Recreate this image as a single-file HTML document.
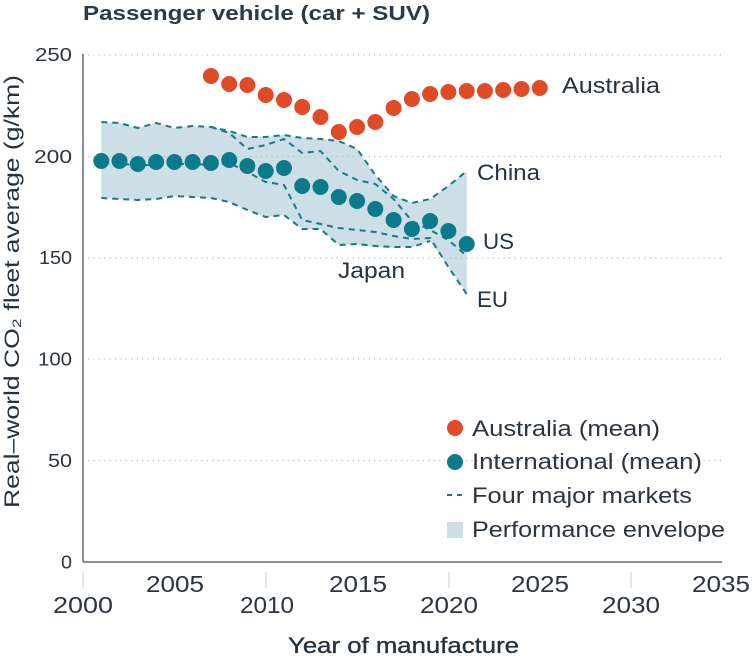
<!DOCTYPE html>
<html>
<head>
<meta charset="utf-8">
<style>
  html, body { margin:0; padding:0; background:#ffffff; }
  svg { display:block; }
  text { font-family: "Liberation Sans", "DejaVu Sans", sans-serif; }
</style>
</head>
<body>
<svg width="754" height="660" viewBox="0 0 754 660" xmlns="http://www.w3.org/2000/svg">
  <rect x="0" y="0" width="754" height="660" fill="#ffffff"/>

  <!-- Title -->
  <text x="83" y="20" font-size="20" font-weight="bold" fill="#2b3a48" textLength="347" lengthAdjust="spacingAndGlyphs">Passenger vehicle (car + SUV)</text>

  <!-- Envelope -->
  <polygon fill="#cddfe6" points="101.3,122 119.5,123 137.8,128 156.1,123 174.4,128 192.6,126 210.9,127 229.2,131 247.4,137 265.7,137 284,135 302.2,138 320.5,139 338.8,141 357.1,149 375.3,175 393.6,196 411.9,203 430.1,199 448.4,186 466.7,171 466.7,294 448.4,267 430.1,241 411.9,247 393.6,248 375.3,247 357.1,245 338.8,245 320.5,229 302.2,229 284,215 265.7,217 247.4,210 229.2,202 210.9,198 192.6,197 174.4,196 156.1,199 137.8,200 119.5,199 101.3,198"/>

  <!-- Gridlines -->
  <g stroke="#b9bec3" stroke-width="1.2" stroke-dasharray="1.2 4.2">
    <line x1="88" y1="55" x2="722" y2="55"/>
    <line x1="88" y1="156.5" x2="722" y2="156.5"/>
    <line x1="88" y1="258" x2="722" y2="258"/>
    <line x1="88" y1="359" x2="722" y2="359"/>
    <line x1="88" y1="460.5" x2="722" y2="460.5"/>
  </g>

  <!-- Axes -->
  <line x1="83" y1="54" x2="83" y2="562" stroke="#5f6a74" stroke-width="1.5"/>
  <line x1="83" y1="562" x2="722" y2="562" stroke="#5f6a74" stroke-width="1.5"/>

  <!-- X ticks -->
  <g stroke="#c8cbce" stroke-width="1">
    <line x1="83" y1="572" x2="83" y2="588"/>
    <line x1="266" y1="572" x2="266" y2="588"/>
    <line x1="449" y1="572" x2="449" y2="588"/>
    <line x1="631" y1="572" x2="631" y2="588"/>
  </g>

  <!-- X labels -->
  <g font-size="23" fill="#2b3440" text-anchor="middle">
    <text x="175" y="592" textLength="58" lengthAdjust="spacingAndGlyphs">2005</text>
    <text x="358" y="592" textLength="58" lengthAdjust="spacingAndGlyphs">2015</text>
    <text x="540" y="592" textLength="58" lengthAdjust="spacingAndGlyphs">2025</text>
    <text x="721" y="592" textLength="58" lengthAdjust="spacingAndGlyphs">2035</text>
    <text x="83" y="613" textLength="60" lengthAdjust="spacingAndGlyphs">2000</text>
    <text x="267" y="613" textLength="54" lengthAdjust="spacingAndGlyphs">2010</text>
    <text x="449" y="613" textLength="58" lengthAdjust="spacingAndGlyphs">2020</text>
    <text x="631" y="613" textLength="58" lengthAdjust="spacingAndGlyphs">2030</text>
  </g>

  <!-- X title -->
  <text x="288" y="653" font-size="22" fill="#25323f" stroke="#25323f" stroke-width="0.35" textLength="231" lengthAdjust="spacingAndGlyphs">Year of manufacture</text>

  <!-- Y labels -->
  <g font-size="18" fill="#2b3440" text-anchor="end">
    <text x="72" y="61" textLength="37" lengthAdjust="spacingAndGlyphs">250</text>
    <text x="72" y="163" textLength="38" lengthAdjust="spacingAndGlyphs">200</text>
    <text x="72" y="264" textLength="33" lengthAdjust="spacingAndGlyphs">150</text>
    <text x="72" y="365.5" textLength="34" lengthAdjust="spacingAndGlyphs">100</text>
    <text x="72" y="467" textLength="24" lengthAdjust="spacingAndGlyphs">50</text>
    <text x="72" y="568.5" textLength="11" lengthAdjust="spacingAndGlyphs">0</text>
  </g>

  <!-- Y title -->
  <text transform="translate(19,291.5) rotate(-90)" text-anchor="middle" font-size="21" fill="#25323f" textLength="433" lengthAdjust="spacingAndGlyphs">Real–world CO₂ fleet average (g/km)</text>

  <!-- Dashed market lines -->
  <g fill="none" stroke="#17788a" stroke-width="2" stroke-dasharray="6 5" stroke-linejoin="round">
    <polyline points="101.3,122 119.5,123 137.8,128 156.1,123 174.4,128 192.6,126 210.9,127 229.2,131 247.4,137 265.7,137 284,135 302.2,138 320.5,139 338.8,141 357.1,149 375.3,175 393.6,196 411.9,203 430.1,199 448.4,186 466.7,171"/>
    <polyline points="210.9,127 229.2,133 247.4,149 265.7,145 284,139 302.2,153 320.5,151 338.8,171 357.1,180 375.3,184 393.6,199 411.9,221 430.1,230 448.4,240 466.7,256"/>
    <polyline points="101.3,163 119.5,163 137.8,166 156.1,164 174.4,164 192.6,164 210.9,165 229.2,163 247.4,172 265.7,182 284,185 302.2,220 320.5,224 338.8,228 357.1,230 375.3,232 393.6,236 411.9,239 430.1,238 448.4,267 466.7,294"/>
    <polyline points="101.3,198 119.5,199 137.8,200 156.1,199 174.4,196 192.6,197 210.9,198 229.2,202 247.4,210 265.7,217 284,215 302.2,229 320.5,229 338.8,245 357.1,244 375.3,246 393.6,247 411.9,247 430.1,241"/>
  </g>

  <!-- International dots -->
  <g fill="#0b7b8b">
    <circle cx="101.3" cy="161" r="8"/>
    <circle cx="119.5" cy="161" r="8"/>
    <circle cx="137.8" cy="164" r="8"/>
    <circle cx="156.1" cy="162" r="8"/>
    <circle cx="174.4" cy="162" r="8"/>
    <circle cx="192.6" cy="162" r="8"/>
    <circle cx="210.9" cy="163" r="8"/>
    <circle cx="229.2" cy="160" r="8"/>
    <circle cx="247.4" cy="166" r="8"/>
    <circle cx="265.7" cy="171" r="8"/>
    <circle cx="284" cy="168" r="8"/>
    <circle cx="302.2" cy="186" r="8"/>
    <circle cx="320.5" cy="187" r="8"/>
    <circle cx="338.8" cy="197" r="8"/>
    <circle cx="357.1" cy="201" r="8"/>
    <circle cx="375.3" cy="209" r="8"/>
    <circle cx="393.6" cy="220" r="8"/>
    <circle cx="411.9" cy="229" r="8"/>
    <circle cx="430.1" cy="221" r="8"/>
    <circle cx="448.4" cy="231" r="8"/>
    <circle cx="466.7" cy="244" r="8"/>
  </g>

  <!-- Australia dots -->
  <g fill="#df4b27">
    <circle cx="210.9" cy="76" r="8"/>
    <circle cx="229.2" cy="84" r="8"/>
    <circle cx="247.4" cy="85" r="8"/>
    <circle cx="265.7" cy="95" r="8"/>
    <circle cx="284" cy="100" r="8"/>
    <circle cx="302.2" cy="107" r="8"/>
    <circle cx="320.5" cy="117" r="8"/>
    <circle cx="338.8" cy="132" r="8"/>
    <circle cx="357.1" cy="127" r="8"/>
    <circle cx="375.3" cy="122" r="8"/>
    <circle cx="393.6" cy="108" r="8"/>
    <circle cx="411.9" cy="99" r="8"/>
    <circle cx="430.1" cy="94" r="8"/>
    <circle cx="448.4" cy="92" r="8"/>
    <circle cx="466.7" cy="91" r="8"/>
    <circle cx="484.9" cy="91" r="8"/>
    <circle cx="503.2" cy="90" r="8"/>
    <circle cx="521.5" cy="89" r="8"/>
    <circle cx="539.8" cy="88" r="8"/>
  </g>

  <!-- Annotations -->
  <g font-size="22" fill="#25323f">
    <text x="562" y="93" textLength="98" lengthAdjust="spacingAndGlyphs">Australia</text>
    <text x="477" y="180" textLength="63" lengthAdjust="spacingAndGlyphs">China</text>
    <text x="483" y="249" textLength="31" lengthAdjust="spacingAndGlyphs">US</text>
    <text x="477" y="307" textLength="31" lengthAdjust="spacingAndGlyphs">EU</text>
    <text x="338" y="278" textLength="67" lengthAdjust="spacingAndGlyphs">Japan</text>
  </g>

  <!-- Legend -->
  <circle cx="455" cy="428" r="8" fill="#df4b27"/>
  <circle cx="455" cy="462" r="8" fill="#0b7b8b"/>
  <line x1="447" y1="495" x2="452" y2="495" stroke="#17788a" stroke-width="2"/>
  <line x1="457" y1="495" x2="462" y2="495" stroke="#17788a" stroke-width="2"/>
  <rect x="447" y="522" width="16" height="16" fill="#cddfe6"/>
  <g font-size="22" fill="#2b3440">
    <text x="472" y="436" textLength="188" lengthAdjust="spacingAndGlyphs">Australia (mean)</text>
    <text x="472" y="469" textLength="230" lengthAdjust="spacingAndGlyphs">International (mean)</text>
    <text x="472" y="503" textLength="220" lengthAdjust="spacingAndGlyphs">Four major markets</text>
    <text x="472" y="537" textLength="253" lengthAdjust="spacingAndGlyphs">Performance envelope</text>
  </g>
</svg>
</body>
</html>
